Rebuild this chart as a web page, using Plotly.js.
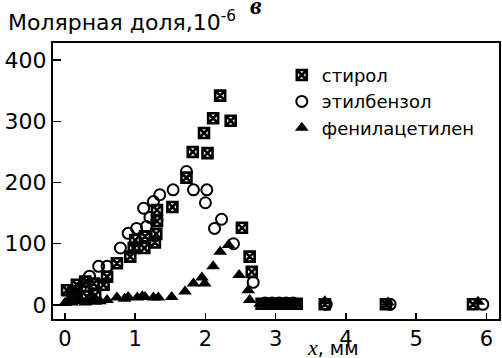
<!DOCTYPE html>
<html><head><meta charset="utf-8">
<script src="https://cdn.plot.ly/plotly-3.0.1.min.js"></script>
<style>html,body{margin:0;padding:0;background:#fff}#chart{width:502px;height:358px}</style>
</head><body><div id="chart"></div>
<script>
// стирол (squares)
const styreneX = [0.03,0.12,0.17,0.17,0.29,0.31,0.41,0.43,0.55,0.6,0.74,0.93,0.98,1.0,1.13,1.14,1.28,1.3,1.31,1.31,1.53,1.73,1.82,1.98,2.03,2.11,2.21,2.36,2.52,2.63,2.66,2.8,2.9,3.0,3.1,3.2,3.3,3.7,4.57,5.81];
const styreneY = [24,18,33,14,38,14,35,16,33,46,68,79,93,106,93,112,102,116,137,155,160,208,250,281,248,305,342,301,126,79,54,2,2,2,2,2,2,1,1,1];
// этилбензол (open circles)
const ethylX = [0.1,0.22,0.35,0.48,0.6,0.79,0.9,1.02,1.12,1.16,1.21,1.26,1.31,1.35,1.54,1.73,1.83,2.0,2.02,2.13,2.23,2.4,2.68,2.85,2.95,3.05,3.15,3.25,3.72,4.63,5.95];
const ethylY = [22,28,47,63,63,93,117,125,158,128,143,169,138,180,188,218,188,167,188,125,140,100,37,3,3,3,3,3,1,1,1];
// фенилацетилен (filled triangles)
const phenylX = [0.0,0.05,0.1,0.17,0.22,0.29,0.36,0.43,0.5,0.6,0.74,0.85,0.9,1.03,1.1,1.14,1.26,1.33,1.52,1.71,1.83,1.95,1.99,2.11,2.21,2.33,2.48,2.61,2.63,2.78,2.9,3.0,3.1,3.2,3.3,3.7,4.6,5.88];
const phenylY = [3,8,4,6,9,4,8,5,6,8,12,10,13,12,14,13,12,12,13,22,35,45,35,63,87,98,49,24,8,2,2,2,2,2,2,6,4,5];

const seriesNames = ['стирол','этилбензол','фенилацетилен'];
const xTicks = [0,1,2,3,4,5,6];
const yTicks = [0,100,200,300,400];

const FONT = 'DejaVu Sans, Liberation Sans, sans-serif';
const traces = [
  {x: styreneX, y: styreneY, name: seriesNames[0], type:'scatter', mode:'markers',
   marker:{symbol:'square-x-open', size:10, color:'#000', line:{width:2.6, color:'#000'}}},
  {x: ethylX, y: ethylY, name: seriesNames[1], type:'scatter', mode:'markers',
   marker:{symbol:'circle-open', size:11, color:'#000', line:{width:2, color:'#000'}}},
  {x: phenylX, y: phenylY, name: seriesNames[2], type:'scatter', mode:'markers',
   marker:{symbol:'triangle-up', size:12, color:'#000', line:{width:0}}}
];

const layout = {
  width:502, height:358,
  margin:{l:53, r:3, t:43, b:39},
  paper_bgcolor:'#fff', plot_bgcolor:'#fff',
  font:{family:FONT, color:'#000', size:18},
  showlegend:true,
  legend:{x:0.513, y:0.95, xanchor:'left', yanchor:'top', bgcolor:'rgba(0,0,0,0)',
          font:{family:FONT, size:18, color:'#000'}, itemwidth:30, tracegroupgap:0},
  xaxis:{range:[-0.17,6.18], tickvals:xTicks, ticktext:xTicks.map(String), ticks:'inside', ticklen:6, tickwidth:1.5,
         tickcolor:'#000', showline:true, linecolor:'#000', linewidth:2, mirror:true, showgrid:false, zeroline:false,
         tickfont:{family:FONT, size:21, color:'#000'}},
  yaxis:{range:[-23,428], tickvals:yTicks, ticktext:yTicks.map(String), ticks:'inside', ticklen:8, tickwidth:1.5,
         tickcolor:'#000', showline:true, linecolor:'#000', linewidth:2, mirror:true, showgrid:false, zeroline:false,
         tickfont:{family:FONT, size:22, color:'#000'}},
  annotations:[
    {xref:'paper', yref:'paper', x:-0.105, y:1.08, xanchor:'left', yanchor:'middle', showarrow:false,
     text:'Молярная доля,10<sup>-6</sup>', font:{family:FONT, size:22, color:'#000'}},
    {xref:'paper', yref:'paper', x:0.455, y:1.137, xanchor:'center', yanchor:'middle', showarrow:false,
     text:'<b><i>в</i></b>', font:{family:'Liberation Serif, DejaVu Serif, serif', size:26, color:'#000'}},
    {xref:'paper', yref:'paper', x:0.628, y:-0.102, xanchor:'center', yanchor:'middle', showarrow:false,
     text:'<i><span style="font-family:Liberation Serif, serif;font-size:22px">x</span></i>, мм', font:{family:FONT, size:19, color:'#000'}}
  ]
};
Plotly.newPlot('chart', traces, layout, {displayModeBar:false, staticPlot:true});
</script></body></html>
